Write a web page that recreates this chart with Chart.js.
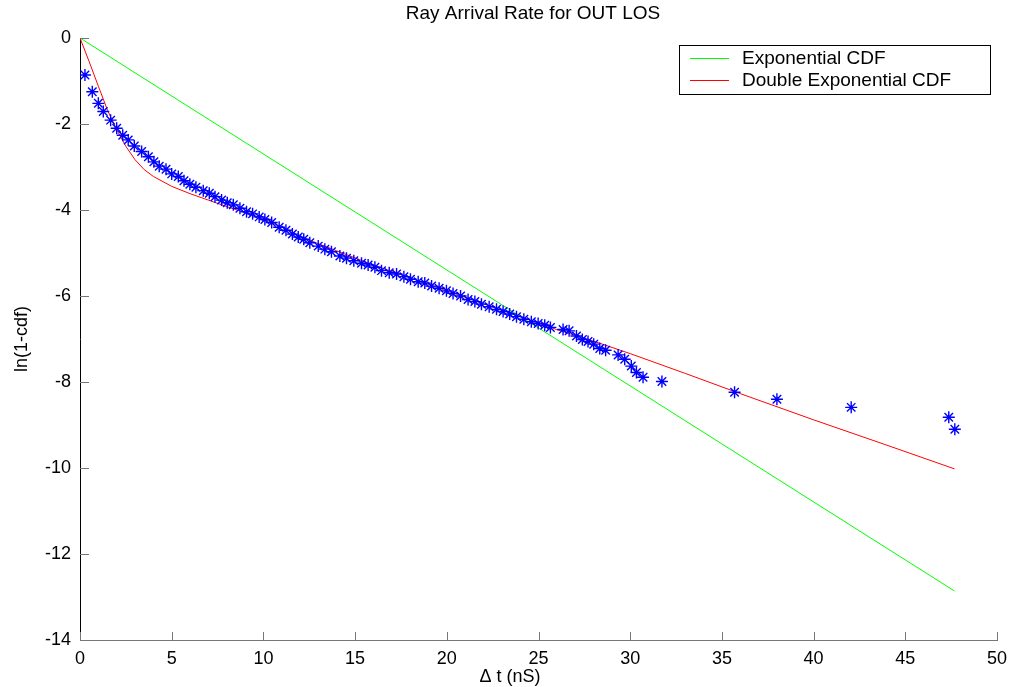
<!DOCTYPE html>
<html>
<head>
<meta charset="utf-8">
<title>Ray Arrival Rate for OUT LOS</title>
<script src="https://cdn.jsdelivr.net/npm/chart.js@4"></script>
<style>
  html, body { margin: 0; padding: 0; background: #fff; }
  #rayChart { display: block; }
</style>
</head>
<body>
<canvas id="rayChart" width="1012" height="687"></canvas>
<script>
// measured points (delta t in nS, ln(1-cdf))
const starT = [0.27, 0.67, 1.0, 1.27, 1.67, 2.0, 2.33, 2.63, 2.96, 3.36, 3.73, 4.03, 4.32, 4.69, 5.0,
  5.36, 5.67, 5.99, 6.32, 6.72, 7.05, 7.36, 7.72, 8.03, 8.36, 8.72, 9.08, 9.41, 9.77, 10.08, 10.45,
  10.86, 11.23, 11.58, 11.9, 12.2, 12.53, 12.99, 13.35, 13.71, 14.17, 14.53, 14.93, 15.35, 15.71,
  16.08, 16.44, 16.86, 17.26, 17.66, 18.02, 18.44, 18.8, 19.17, 19.58, 19.98, 20.34, 20.75, 21.16,
  21.53, 21.89, 22.31, 22.71, 23.07, 23.43, 23.8, 24.2, 24.61, 24.98, 25.34, 25.65, 26.34, 26.67,
  27.07, 27.39, 27.7, 28.01, 28.34, 28.66, 29.34, 29.7, 30.06, 30.34, 30.7, 31.73, 35.69, 38.0,
  42.05, 47.37, 47.7];
const starLn = [-0.86, -1.25, -1.52, -1.71, -1.91, -2.1, -2.26, -2.37, -2.51, -2.64, -2.76, -2.88, -2.98, -3.05, -3.16,
  -3.22, -3.32, -3.4, -3.47, -3.55, -3.61, -3.69, -3.77, -3.83, -3.88, -3.96, -4.04, -4.09, -4.16, -4.22, -4.29,
  -4.4, -4.47, -4.56, -4.63, -4.68, -4.76, -4.84, -4.91, -4.97, -5.07, -5.12, -5.18, -5.24, -5.28,
  -5.33, -5.41, -5.46, -5.49, -5.55, -5.61, -5.67, -5.7, -5.77, -5.82, -5.88, -5.94, -6.0, -6.08,
  -6.13, -6.19, -6.25, -6.31, -6.36, -6.42, -6.48, -6.54, -6.6, -6.64, -6.68, -6.73, -6.78, -6.81,
  -6.93, -7.01, -7.06, -7.12, -7.22, -7.26, -7.37, -7.47, -7.63, -7.78, -7.89, -7.99, -8.24, -8.4,
  -8.59, -8.82, -9.1];

// exponential fit
const expT = [0, 47.68];
const expLn = [0, -12.86];

// double exponential fit
const dblT = [0, 0.5, 1, 1.5, 2, 2.5, 3, 3.5, 4, 5, 6, 7, 8, 9, 10, 11, 12, 14, 16, 18, 20,
  22, 24, 26, 28, 30, 33, 36, 40, 44, 47.68];
const dblLn = [0, -0.55, -1.12, -1.68, -2.13, -2.52, -2.83, -3.06, -3.22, -3.45, -3.62, -3.77, -3.92, -4.06, -4.2, -4.4, -4.62, -4.95, -5.28, -5.58, -5.88,
  -6.18, -6.48, -6.78, -7.05, -7.34, -7.8, -8.27, -8.88, -9.47, -10.02];

const xTicks = [0, 5, 10, 15, 20, 25, 30, 35, 40, 45, 50];
const yTicks = [0, -2, -4, -6, -8, -10, -12, -14];

const legendLabels = ["Exponential CDF", "Double Exponential CDF"];
const FONT = '"Liberation Sans", Arial, sans-serif';

const pts = (xs, ys) => xs.map((v, i) => ({ x: v, y: ys[i] }));

// title, x label, legend box and inward ticks
const overlay = {
  id: "overlay",
  afterDraw(chart) {
    const { ctx, chartArea: a, scales } = chart;
    ctx.save();
    ctx.lineWidth = 1;

    ctx.strokeStyle = "#777";
    xTicks.forEach(v => {
      const px = Math.round(scales.x.getPixelForValue(v)) + 0.5;
      ctx.beginPath();
      ctx.moveTo(px, a.bottom);
      ctx.lineTo(px, a.bottom - 8);
      ctx.stroke();
    });
    yTicks.forEach(v => {
      const py = Math.round(scales.y.getPixelForValue(v)) + 0.5;
      ctx.beginPath();
      ctx.moveTo(a.left, py);
      ctx.lineTo(a.left + 9, py);
      ctx.stroke();
    });

    ctx.fillStyle = "#000";
    ctx.textBaseline = "middle";
    ctx.textAlign = "center";
    ctx.font = "19px " + FONT;
    ctx.fillText("Ray Arrival Rate for OUT LOS", 533, 14);
    ctx.font = "18px " + FONT;
    ctx.fillText("\u0394 t (nS)", 510, 677);

    // legend
    ctx.fillStyle = "#fff";
    ctx.fillRect(679.5, 45.5, 311, 49);
    ctx.strokeStyle = "#000";
    ctx.strokeRect(679.5, 45.5, 311, 49);
    const cols = ["#00ff00", "#ff0000"];
    legendLabels.forEach((lab, i) => {
      const ly = 58.5 + i * 22;
      ctx.strokeStyle = cols[i];
      ctx.beginPath();
      ctx.moveTo(690, ly);
      ctx.lineTo(729, ly);
      ctx.stroke();
      ctx.fillStyle = "#000";
      ctx.textAlign = "left";
      ctx.font = "19px " + FONT;
      ctx.fillText(lab, 742, ly);
    });
    ctx.restore();
  }
};

const config = {
  type: "scatter",
  data: {
    datasets: [
      {
        label: "data",
        data: pts(starT, starLn),
        pointStyle: "star",
        pointRadius: 6,
        pointBorderWidth: 1.4,
        borderColor: "#0000ff",
        backgroundColor: "#0000ff",
        showLine: false,
      },
      {
        label: legendLabels[0],
        data: pts(expT, expLn),
        showLine: true,
        borderColor: "#00ff00",
        borderWidth: 1,
        pointRadius: 0,
        tension: 0,
      },
      {
        label: legendLabels[1],
        data: pts(dblT, dblLn),
        showLine: true,
        borderColor: "#ff0000",
        borderWidth: 1,
        pointRadius: 0,
        tension: 0,
      },
    ],
  },
  options: {
    responsive: false,
    animation: false,
    layout: { padding: { top: 38, right: 15, left: 0, bottom: 0 } },
    plugins: {
      legend: { display: false },
      tooltip: { enabled: false },
    },
    scales: {
      x: {
        type: "linear",
        min: 0,
        max: 50,
        afterFit: s => { s.height = 47; },
        afterBuildTicks: s => { s.ticks = xTicks.map(v => ({ value: v })); },
        grid: { display: false },
        border: { display: true, color: "#777", width: 1 },
        ticks: { color: "#000", padding: 0, font: { family: FONT, size: 18 } },
      },
      y: {
        type: "linear",
        min: -14,
        max: 0,
        afterFit: s => { s.width = 80; },
        afterBuildTicks: s => { s.ticks = yTicks.map(v => ({ value: v })); },
        grid: { display: false },
        border: { display: true, color: "#000", width: 1 },
        ticks: { color: "#000", padding: 1, font: { family: FONT, size: 18 } },
        title: {
          display: true,
          text: "ln(1-cdf)",
          color: "#000",
          padding: { top: 11, bottom: 0 },
          font: { family: FONT, size: 18 },
        },
      },
    },
  },
  plugins: [overlay],
};

const rayChart = new Chart(document.getElementById("rayChart"), config);
</script>
</body>
</html>
